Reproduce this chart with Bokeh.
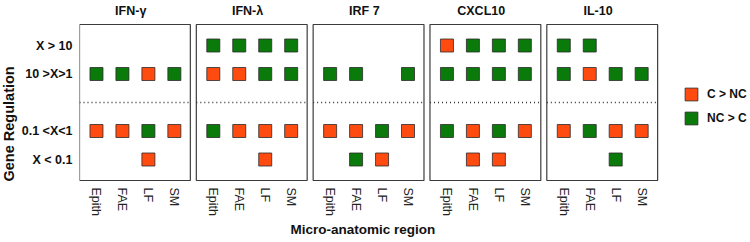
from bokeh.plotting import figure
from bokeh.models import Range1d, FixedTicker, ColumnDataSource, Legend, LegendItem, Title
from bokeh.embed import file_html
from bokeh.resources import INLINE
from bokeh.core.properties import value

# ---------------- data ----------------
genes = ["IFN-γ", "IFN-λ", "IRF 7", "CXCL10", "IL-10"]
regions = ["Epith", "FAE", "LF", "SM"]
levels = ["X > 10", "10 >X>1", "0.1 <X<1", "X < 0.1"]
categories = ["C > NC", "NC > C"]

# rows follow `levels`, entries follow `regions`; "C" = C > NC, "N" = NC > C, "" = none
ifn_gamma = [["", "", "", ""], ["N", "N", "C", "N"], ["C", "C", "N", "C"], ["", "", "C", ""]]
ifn_lambda = [["N", "N", "N", "N"], ["C", "C", "N", "N"], ["N", "C", "C", "C"], ["", "", "C", ""]]
irf7 = [["", "", "", ""], ["N", "N", "", "N"], ["C", "C", "N", "C"], ["", "N", "C", ""]]
cxcl10 = [["C", "N", "N", "N"], ["N", "N", "N", "N"], ["N", "C", "N", "C"], ["", "C", "C", ""]]
il10 = [["N", "N", "", ""], ["N", "C", "N", "N"], ["C", "N", "C", "C"], ["", "", "N", ""]]
gene_data = [ifn_gamma, ifn_lambda, irf7, cxcl10, il10]

# ---------------- layout constants ----------------
PITCH = 4.5                 # distance between panels in column units
LEVEL_Y = [5, 4, 2, 1]      # y position of each regulation level
DIVIDER_Y = 3
COLORS = {"C": "#FF4A10", "N": "#0A7A0A"}
FONT = "Liberation Sans"

UNIT_X = 26.0               # px per column unit
UNIT_Y = 28.5               # px per level unit
FRAME_LEFT = 78
FRAME_W = 750 - FRAME_LEFT
FRAME_H = 181
x0 = -17.0 / UNIT_X
x1 = x0 + FRAME_W / UNIT_X
y1 = 5 + 45.0 / UNIT_Y
y0 = y1 - FRAME_H / UNIT_Y


def px_y(cy):
    return y1 - cy / UNIT_Y


p = figure(width=750, height=242, output_backend="svg", toolbar_location=None,
           x_range=Range1d(x0, x1), y_range=Range1d(y0, y1), title=None,
           min_border_left=FRAME_LEFT, min_border_right=0, min_border_top=0,
           min_border_bottom=242 - FRAME_H)
p.outline_line_color = None
p.xgrid.visible = False
p.ygrid.visible = False
p.background_fill_color = "white"
p.border_fill_color = "white"

# panel frames, dividers, titles
box_l = [g * PITCH + x0 for g in range(len(genes))]
box_r = [g * PITCH + 3 + 16.0 / UNIT_X for g in range(len(genes))]
box_top = px_y(24)
box_bot = px_y(180)
p.quad(left=box_l, right=box_r, top=box_top, bottom=box_bot,
       fill_color=None, line_color="#3c3c3c", line_width=1.2)
p.segment(x0=box_l, x1=box_r, y0=DIVIDER_Y, y1=DIVIDER_Y,
          line_color="#333333", line_width=1.3, line_dash="1 3")
p.text(x=[g * PITCH + 1.5 - 0.18 for g in range(len(genes))],
       y=[px_y(10)] * len(genes), text=genes,
       text_align="center", text_baseline="middle",
       text_font=value(FONT), text_font_style="bold",
       text_font_size=value("12.5px"), text_color="#111111")

# squares
renderers = {}
for code, label in zip(["C", "N"], categories):
    xs, ys = [], []
    for g, rows in enumerate(gene_data):
        for li, row in enumerate(rows):
            for ri, v in enumerate(row):
                if v == code:
                    xs.append(g * PITCH + ri)
                    ys.append(LEVEL_Y[li])
    src = ColumnDataSource(dict(x=xs, y=ys))
    renderers[label] = p.rect("x", "y", width=13, height=13, width_units="screen",
                              height_units="screen", source=src,
                              fill_color=COLORS[code], line_color="#2b2b2b",
                              line_width=0.8)

# axes
ticks = [g * PITCH + r for g in range(len(genes)) for r in range(len(regions))]
p.xaxis.ticker = FixedTicker(ticks=ticks)
p.xaxis.major_label_overrides = {t: regions[i % len(regions)] for i, t in enumerate(ticks)}
p.xaxis.major_label_orientation = "vertical"
p.xaxis.axis_line_color = None
p.xaxis.major_tick_line_color = None
p.xaxis.minor_tick_line_color = None
p.xaxis.major_tick_out = 0
p.xaxis.major_label_standoff = 6
p.xaxis.major_label_text_font = FONT
p.xaxis.major_label_text_font_size = "12.5px"
p.xaxis.major_label_text_color = "#222222"

p.yaxis.ticker = FixedTicker(ticks=LEVEL_Y)
p.yaxis.major_label_overrides = {y: lab for y, lab in zip(LEVEL_Y, levels)}
p.yaxis.axis_line_color = None
p.yaxis.major_tick_line_color = None
p.yaxis.minor_tick_line_color = None
p.yaxis.major_tick_out = 0
p.yaxis.major_label_standoff = 7
p.yaxis.major_label_text_font = FONT
p.yaxis.major_label_text_font_style = "bold"
p.yaxis.major_label_text_font_size = "12.5px"
p.yaxis.major_label_text_color = "#111111"

# axis titles
yt = Title(text="Gene Regulation", align="left", offset=0, standoff=0,
           vertical_align="top",
           text_font=FONT, text_font_style="bold", text_font_size="14.5px",
           text_color="#111111")
p.add_layout(yt, "left")
xt = Title(text="Micro-anatomic region", align="left", offset=211, standoff=3,
           text_font=FONT, text_font_style="bold", text_font_size="13.5px",
           text_color="#111111")
p.add_layout(xt, "below")

legend = Legend(items=[LegendItem(label=lab, renderers=[renderers[lab]]) for lab in categories],
                location=(604, 55), orientation="vertical",
                glyph_width=16, glyph_height=16, label_height=16, spacing=8,
                padding=0, margin=0, label_standoff=8,
                border_line_color=None, background_fill_alpha=0,
                label_text_font=FONT, label_text_font_style="bold",
                label_text_font_size="12px", label_text_color="#111111")
p.add_layout(legend, "center")

open("out.html", "w").write(file_html(p, INLINE))
